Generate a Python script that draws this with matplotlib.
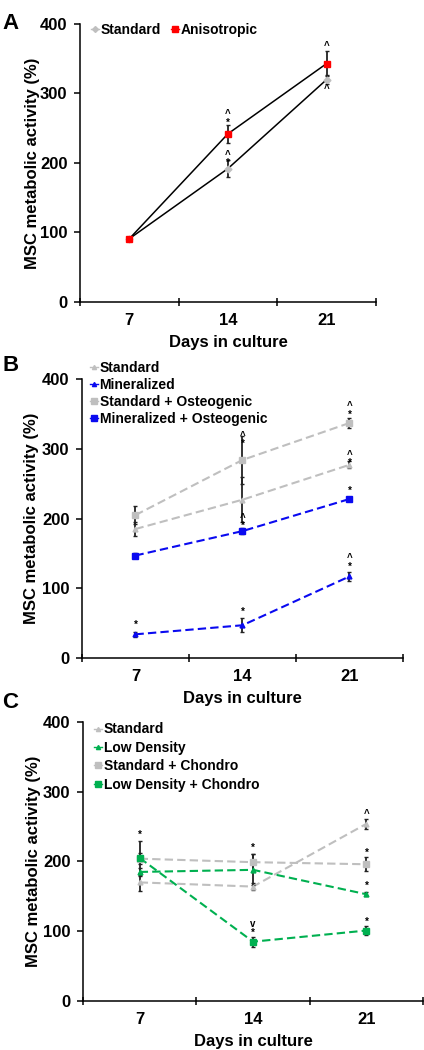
import matplotlib.pyplot as plt
from matplotlib.lines import Line2D

plt.rcParams['font.family'] = ['Liberation Sans', 'DejaVu Sans']
plt.rcParams['font.weight'] = 'bold'
plt.rcParams['axes.labelweight'] = 'bold'

days = ['7', '14', '21']
xpos = [0.5, 1.5, 2.5]
GRAY = '#bfbfbf'
BLUE = '#0a0af0'
GREEN = '#00b050'
RED = '#ff0000'

# Panel A
a_std = [91, 192, 320]
a_std_err = [3, 12, 6]
a_ani = [91, 242, 343]
a_ani_err = [3, 13, 18]
# significance marks: (day index, value, symbols)
a_marks = [(1, 264, '^\n*'), (1, 206, '^\n*'), (2, 368, '^'), (2, 306, '^')]

# Panel B
b_std = [185, 227, 277]
b_std_err = [10, 32, 5]
b_min = [34, 47, 117]
b_min_err = [4, 10, 6]
b_std_ost = [205, 284, 337]
b_std_ost_err = [13, 34, 7]
b_min_ost = [147, 182, 228]
b_min_ost_err = [3, 4, 3]
b_marks = [(0, 47, '*'), (1, 313, '^\n*'), (1, 195, '^\n*'), (1, 66, '*'),
           (2, 355, '^\n*'), (2, 286, '^\n*'), (2, 240, '*'), (2, 137, '^\n*')]

# Panel C
c_std = [170, 164, 254]
c_std_err = [13, 5, 7]
c_low = [185, 188, 153]
c_low_err = [6, 22, 3]
c_std_ch = [204, 199, 196]
c_std_ch_err = [8, 12, 10]
c_low_ch = [205, 85, 101]
c_low_ch_err = [25, 7, 6]
c_marks = [(0, 238, '*'), (1, 220, '*'), (1, 104, 'v\n*'),
           (2, 268, '^'), (2, 213, '*'), (2, 165, '*'), (2, 114, '*')]


def style_axes(ax, ylab_x):
    ax.set_xlim(0, 3)
    ax.set_ylim(0, 400)
    ax.set_yticks([0, 100, 200, 300, 400])
    ax.set_xticks([0, 1, 2, 3])
    ax.set_xticklabels([])
    ax.set_xticks(xpos, minor=True)
    ax.set_xticklabels(days, minor=True)
    ax.tick_params(axis='x', which='major', direction='inout', length=6, width=1.1)
    ax.tick_params(axis='x', which='minor', length=0, labelsize=12, pad=8)
    ax.tick_params(axis='y', direction='out', length=4, width=1.1, labelsize=12, pad=5)
    for s in ['top', 'right']:
        ax.spines[s].set_visible(False)
    for s in ['left', 'bottom']:
        ax.spines[s].set_linewidth(1.1)
    ax.set_xlabel('Days in culture', fontsize=12)
    ax.set_ylabel('MSC metabolic activity (%)', fontsize=12)
    ax.yaxis.set_label_coords(ylab_x, 0.5)
    ax.yaxis.label.set_va('center')
    ax.xaxis.set_label_coords(0.5, -0.145)
    ax.xaxis.label.set_va('center')


def draw_marks(ax, marks):
    for i, y, s in marks:
        ax.text(xpos[i], y, s, ha='center', va='center', fontsize=7,
                linespacing=0.75, color='black', zorder=6)


def draw_series(ax, vals, err, color, marker, ms, ls='--', lcolor=None):
    ax.errorbar(xpos, vals, yerr=err, fmt='none', ecolor='#222222', elinewidth=1.3,
                capsize=1.5, capthick=1, zorder=4)
    ax.plot(xpos, vals, color=lcolor or color, ls=ls, lw=1.5 if ls == '--' else 1.1,
            dashes=(4, 2) if ls == '--' else (None, None), zorder=3)
    ax.plot(xpos, vals, ls='none', marker=marker, ms=ms, color=color, zorder=5)


def handle(color, marker, ms):
    return Line2D([0], [0], color=color, lw=1, marker=marker, ms=ms)


fig = plt.figure(figsize=(4.24, 10.5), dpi=100)

# ---------------- A
axA = fig.add_axes([0.1887, 0.7124, 0.698, 0.2648])
draw_series(axA, a_std, a_std_err, GRAY, 'D', 3.5, ls='-', lcolor='black')
draw_series(axA, a_ani, a_ani_err, RED, 's', 5, ls='-', lcolor='black')
draw_marks(axA, a_marks)
style_axes(axA, -0.162)
fig.legend([handle(GRAY, 'D', 3), handle(RED, 's', 4)], ['Standard', 'Anisotropic'],
           loc='upper left', bbox_to_anchor=(0.214, 0.978), ncol=2, frameon=False,
           fontsize=10, handlelength=0.6, handletextpad=0.1, columnspacing=0.7,
           borderpad=0, borderaxespad=0)
fig.text(0.005, 0.988, 'A', fontsize=16, va='top', ha='left')

# ---------------- B
axB = fig.add_axes([0.1934, 0.3733, 0.757, 0.2657])
draw_series(axB, b_std, b_std_err, GRAY, '^', 3.5)
draw_series(axB, b_min, b_min_err, BLUE, '^', 3.5)
draw_series(axB, b_std_ost, b_std_ost_err, GRAY, 's', 4.5)
draw_series(axB, b_min_ost, b_min_ost_err, BLUE, 's', 4.5)
draw_marks(axB, b_marks)
style_axes(axB, -0.156)
fig.legend([handle(GRAY, '^', 3), handle(BLUE, '^', 3), handle(GRAY, 's', 4), handle(BLUE, 's', 4)],
           ['Standard', 'Mineralized', 'Standard + Osteogenic', 'Mineralized + Osteogenic'],
           loc='upper left', bbox_to_anchor=(0.212, 0.656), frameon=False,
           fontsize=10, handlelength=0.6, handletextpad=0.1, labelspacing=0.2,
           borderpad=0, borderaxespad=0)
fig.text(0.005, 0.662, 'B', fontsize=16, va='top', ha='left')

# ---------------- C
axC = fig.add_axes([0.1958, 0.0467, 0.802, 0.2657])
draw_series(axC, c_std, c_std_err, GRAY, '^', 3.5)
draw_series(axC, c_low, c_low_err, GREEN, '^', 3.5)
draw_series(axC, c_std_ch, c_std_ch_err, GRAY, 's', 4.5)
draw_series(axC, c_low_ch, c_low_ch_err, GREEN, 's', 5)
draw_marks(axC, c_marks)
style_axes(axC, -0.147)
fig.legend([handle(GRAY, '^', 3), handle(GREEN, '^', 3), handle(GRAY, 's', 4), handle(GREEN, 's', 4)],
           ['Standard', 'Low Density', 'Standard + Chondro', 'Low Density + Chondro'],
           loc='upper left', bbox_to_anchor=(0.222, 0.312), frameon=False,
           fontsize=10, handlelength=0.6, handletextpad=0.1, labelspacing=0.32,
           borderpad=0, borderaxespad=0)
fig.text(0.005, 0.3405, 'C', fontsize=16, va='top', ha='left')

fig.savefig('out.png', dpi=100)
